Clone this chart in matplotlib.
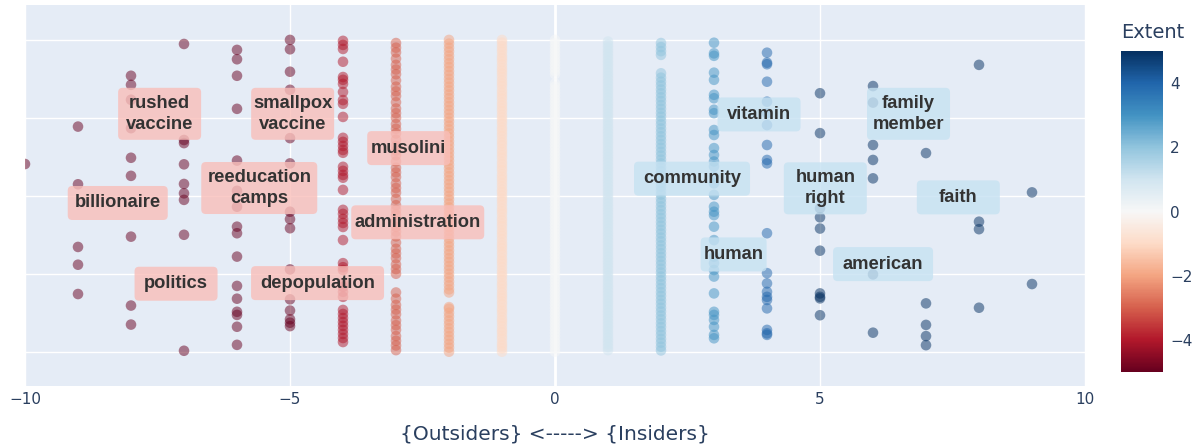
import numpy as np
import matplotlib.pyplot as plt
import matplotlib.transforms as mtransforms
from matplotlib.patches import FancyBboxPatch
from matplotlib.cm import ScalarMappable
from matplotlib.colors import Normalize

# vertical positions of the terms, one list per Extent score (x)
y_m10 = [0.602]
y_m9 = [0.722, 0.537, 0.336, 0.279, 0.185]
y_m8 = [0.885, 0.856, 0.808, 0.717, 0.622, 0.564, 0.369, 0.148, 0.087]
y_m7 = [0.987, 0.679, 0.669, 0.601, 0.538, 0.508, 0.487, 0.375, 0.003]
y_m6 = [0.968, 0.938, 0.885, 0.779, 0.613, 0.516, 0.465, 0.401, 0.380, 0.305,
        0.211, 0.170, 0.128, 0.118, 0.080, 0.022]
y_m5 = [1.0, 0.970, 0.898, 0.840, 0.685, 0.604, 0.449, 0.425, 0.396, 0.264,
        0.168, 0.132, 0.104, 0.093, 0.082]
y_m4 = [0.997, 0.984, 0.971, 0.930, 0.881, 0.872, 0.859, 0.833, 0.807, 0.795,
        0.753, 0.686, 0.673, 0.660, 0.647, 0.638, 0.593, 0.580, 0.567, 0.558,
        0.519, 0.455, 0.442, 0.426, 0.413, 0.400, 0.358, 0.284, 0.271, 0.262,
        0.220, 0.208, 0.192, 0.176, 0.134, 0.121, 0.108, 0.095, 0.083, 0.070,
        0.057, 0.044, 0.031]
y_m3 = [0.005, 0.02, 0.035, 0.05, 0.07, 0.085, 0.10, 0.12, 0.135, 0.15, 0.17,
        0.19, 0.25, 0.265, 0.28, 0.30, 0.315, 0.33, 0.35, 0.37, 0.385, 0.40,
        0.42, 0.44, 0.455, 0.47, 0.49, 0.51, 0.525, 0.54, 0.56, 0.575, 0.59,
        0.61, 0.63, 0.645, 0.66, 0.68, 0.70, 0.715, 0.73, 0.75, 0.765, 0.78,
        0.80, 0.82, 0.835, 0.85, 0.87, 0.89, 0.905, 0.92, 0.94, 0.96, 0.975, 0.99]
y_m2 = [0.000, 0.013, 0.025, 0.038, 0.050, 0.063, 0.075, 0.088, 0.100, 0.113,
        0.125, 0.138, 0.143, 0.190, 0.200, 0.213, 0.225, 0.238, 0.250, 0.263,
        0.275, 0.288, 0.300, 0.313, 0.325, 0.338, 0.350, 0.363, 0.375, 0.388,
        0.400, 0.413, 0.425, 0.438, 0.450, 0.463, 0.475, 0.488, 0.500, 0.513,
        0.525, 0.538, 0.550, 0.563, 0.575, 0.588, 0.600, 0.613, 0.625, 0.638,
        0.650, 0.663, 0.675, 0.688, 0.700, 0.713, 0.725, 0.738, 0.750, 0.763,
        0.775, 0.788, 0.800, 0.813, 0.825, 0.838, 0.850, 0.863, 0.875, 0.888,
        0.900, 0.913, 0.925, 0.938, 0.950, 0.963, 0.975, 0.988, 1.000]
y_m1 = [0.000, 0.011, 0.020, 0.029, 0.041, 0.050, 0.061, 0.069, 0.080, 0.091,
        0.100, 0.109, 0.121, 0.130, 0.139, 0.151, 0.160, 0.171, 0.180, 0.189,
        0.200, 0.211, 0.219, 0.230, 0.241, 0.250, 0.259, 0.270, 0.281, 0.290,
        0.299, 0.311, 0.320, 0.331, 0.340, 0.349, 0.360, 0.371, 0.380, 0.389,
        0.401, 0.410, 0.420, 0.429, 0.441, 0.450, 0.459, 0.470, 0.481, 0.490,
        0.500, 0.511, 0.519, 0.530, 0.540, 0.551, 0.560, 0.569, 0.581, 0.590,
        0.600, 0.609, 0.621, 0.630, 0.640, 0.649, 0.661, 0.670, 0.679, 0.691,
        0.700, 0.710, 0.719, 0.731, 0.740, 0.750, 0.759, 0.771, 0.780, 0.790,
        0.799, 0.811, 0.820, 0.830, 0.839, 0.851, 0.860, 0.869, 0.880, 0.891,
        0.900, 0.909, 0.920, 0.931, 0.940, 0.949, 0.961, 0.970, 0.980, 0.991,
        1.000]
y_0 = [0.00, 0.01, 0.02, 0.03, 0.04, 0.05, 0.06, 0.07, 0.08, 0.09,
       0.10, 0.11, 0.12, 0.13, 0.14, 0.15, 0.16, 0.17, 0.18, 0.19,
       0.20, 0.21, 0.22, 0.23, 0.24, 0.25, 0.26, 0.27, 0.28, 0.29,
       0.30, 0.31, 0.32, 0.33, 0.34, 0.35, 0.36, 0.37, 0.38, 0.39,
       0.40, 0.41, 0.42, 0.43, 0.44, 0.45, 0.46, 0.47, 0.48, 0.49,
       0.50, 0.51, 0.52, 0.53, 0.54, 0.55, 0.56, 0.57, 0.58, 0.59,
       0.60, 0.61, 0.62, 0.63, 0.64, 0.65, 0.66, 0.67, 0.68, 0.69,
       0.70, 0.71, 0.72, 0.73, 0.74, 0.75, 0.76, 0.77, 0.78, 0.79,
       0.80, 0.81, 0.82, 0.83, 0.84, 0.85, 0.86, 0.89, 0.90, 0.91,
       0.92, 0.93, 0.94, 0.95, 0.96, 0.97, 0.98, 0.99, 1.00]
y_1 = [0.005, 0.015, 0.025, 0.035, 0.045, 0.055, 0.065, 0.075, 0.085, 0.095,
       0.105, 0.115, 0.125, 0.135, 0.145, 0.155, 0.165, 0.175, 0.185, 0.195,
       0.205, 0.215, 0.225, 0.235, 0.245, 0.255, 0.265, 0.275, 0.285, 0.295,
       0.305, 0.315, 0.325, 0.335, 0.345, 0.355, 0.365, 0.375, 0.385, 0.395,
       0.405, 0.415, 0.425, 0.435, 0.445, 0.455, 0.465, 0.475, 0.485, 0.495,
       0.505, 0.515, 0.525, 0.535, 0.545, 0.555, 0.565, 0.575, 0.585, 0.595,
       0.605, 0.615, 0.625, 0.635, 0.645, 0.655, 0.665, 0.675, 0.685, 0.695,
       0.705, 0.715, 0.725, 0.735, 0.745, 0.755, 0.765, 0.775, 0.785, 0.795,
       0.805, 0.815, 0.825, 0.835, 0.845, 0.855, 0.865, 0.875, 0.885, 0.895,
       0.905, 0.915, 0.925, 0.935, 0.945, 0.955, 0.965, 0.975, 0.985, 0.995]
y_2 = [0.004, 0.016, 0.029, 0.041, 0.054, 0.066, 0.079, 0.091, 0.104, 0.116,
       0.129, 0.141, 0.154, 0.166, 0.179, 0.191, 0.204, 0.216, 0.229, 0.241,
       0.254, 0.266, 0.279, 0.291, 0.304, 0.316, 0.329, 0.341, 0.354, 0.366,
       0.379, 0.391, 0.404, 0.416, 0.429, 0.441, 0.454, 0.466, 0.479, 0.491,
       0.504, 0.516, 0.529, 0.541, 0.554, 0.566, 0.579, 0.591, 0.604, 0.616,
       0.629, 0.641, 0.654, 0.666, 0.679, 0.691, 0.704, 0.716, 0.729, 0.741,
       0.754, 0.766, 0.779, 0.791, 0.804, 0.816, 0.829, 0.841, 0.854, 0.866,
       0.879, 0.893, 0.952, 0.964, 0.977, 0.990]
y_3 = [0.991, 0.957, 0.949, 0.895, 0.872, 0.824, 0.813, 0.776, 0.765, 0.711,
       0.695, 0.653, 0.631, 0.610, 0.594, 0.561, 0.540, 0.503, 0.465, 0.449,
       0.438, 0.401, 0.358, 0.305, 0.284, 0.262, 0.241, 0.187, 0.128, 0.118,
       0.102, 0.080, 0.054, 0.043]
y_4 = [0.959, 0.927, 0.922, 0.866, 0.802, 0.765, 0.727, 0.663, 0.615, 0.604,
       0.380, 0.252, 0.219, 0.192, 0.176, 0.166, 0.139, 0.070, 0.059, 0.054]
y_5 = [0.829, 0.701, 0.460, 0.431, 0.395, 0.324, 0.187, 0.176, 0.171, 0.117]
y_6 = [0.852, 0.799, 0.663, 0.615, 0.556, 0.248, 0.061]
y_7 = [0.637, 0.155, 0.086, 0.050, 0.021]
y_8 = [0.920, 0.417, 0.393, 0.141]
y_9 = [0.511, 0.217]

extent = list(range(-10, 10))
columns = [y_m10, y_m9, y_m8, y_m7, y_m6, y_m5, y_m4, y_m3, y_m2, y_m1,
           y_0, y_1, y_2, y_3, y_4, y_5, y_6, y_7, y_8, y_9]

# highlighted terms and where their boxes sit
label_text = ["rushed\nvaccine", "smallpox\nvaccine", "musolini", "billionaire",
              "reeducation\ncamps", "administration", "politics", "depopulation",
              "vitamin", "community", "human", "human\nright", "family\nmember",
              "faith", "american"]
label_x = [-7.46, -4.95, -2.76, -8.25, -5.58, -2.59, -7.15, -4.48,
           3.85, 2.585, 3.37, 5.10, 6.67, 7.61, 6.19]
label_y = [0.763, 0.763, 0.653, 0.477, 0.525, 0.415, 0.218, 0.220,
           0.761, 0.555, 0.312, 0.524, 0.763, 0.495, 0.281]
box_w = [83, 83, 83, 100, 116, 133, 83, 133, 83, 116, 66, 83, 83, 83, 100]  # px

xs = np.concatenate([[x] * len(c) for x, c in zip(extent, columns)])
ys = np.concatenate(columns)

dpi = 100
fig = plt.figure(figsize=(12, 4.48), dpi=dpi)
ax = fig.add_axes([25 / 1200, 1 - 386 / 448, 1060 / 1200, 381 / 448])
ax.set_facecolor("#E5ECF6")
for s in ax.spines.values():
    s.set_visible(False)
ax.set_axisbelow(True)
ax.grid(True, color="white", lw=1)
ax.axvline(0, color="white", lw=2, zorder=0.8)

norm = Normalize(vmin=-5, vmax=5)
ax.scatter(xs, ys, c=xs, cmap="RdBu", norm=norm, s=58, alpha=0.5,
           linewidths=0, zorder=2)

red = (249 / 255, 190 / 255, 185 / 255)
blue = (198 / 255, 226 / 255, 242 / 255)
for txt, lx, ly, w in zip(label_text, label_x, label_y, box_w):
    nlines = txt.count("\n") + 1
    h = 34 + 18 * (nlines - 1)
    trans = fig.dpi_scale_trans + mtransforms.ScaledTranslation(lx, ly, ax.transData)
    box = FancyBboxPatch((-w / 2 / dpi, -h / 2 / dpi), w / dpi, h / dpi,
                         boxstyle="round,pad=0,rounding_size=0.045",
                         transform=trans, fc=red if lx < 0 else blue,
                         ec="none", alpha=0.8, zorder=3)
    ax.add_artist(box)
    ax.text(lx, ly, txt, ha="center", va="center", fontsize=13.2,
            fontweight="bold", family="Liberation Sans", color="#333333",
            linespacing=1.3, zorder=4)

ax.set_xlim(-10, 10)
ax.set_ylim(-0.11, 1.112)
ax.set_xticks([-10, -5, 0, 5, 10])
ax.set_yticks([0, 0.25, 0.5, 0.75, 1])
ax.set_yticklabels([])
ax.tick_params(length=0, pad=4, labelsize=11, labelcolor="#2a3f5f")
ax.set_xlabel("{Outsiders} <-----> {Insiders}", fontsize=14.5,
              color="#2a3f5f", labelpad=13)

cax = fig.add_axes([1121 / 1200, 1 - 372 / 448, 42 / 1200, 321 / 448])
cb = fig.colorbar(ScalarMappable(norm=norm, cmap="RdBu"), cax=cax)
cb.outline.set_visible(False)
cb.set_ticks([-4, -2, 0, 2, 4])
cax.tick_params(length=0, pad=5, labelsize=11, labelcolor="#2a3f5f")
fig.text(1121 / 1200, 1 - 32 / 448, "Extent", fontsize=14, color="#2a3f5f",
         ha="left", va="center")

fig.savefig("out.png", dpi=dpi)
